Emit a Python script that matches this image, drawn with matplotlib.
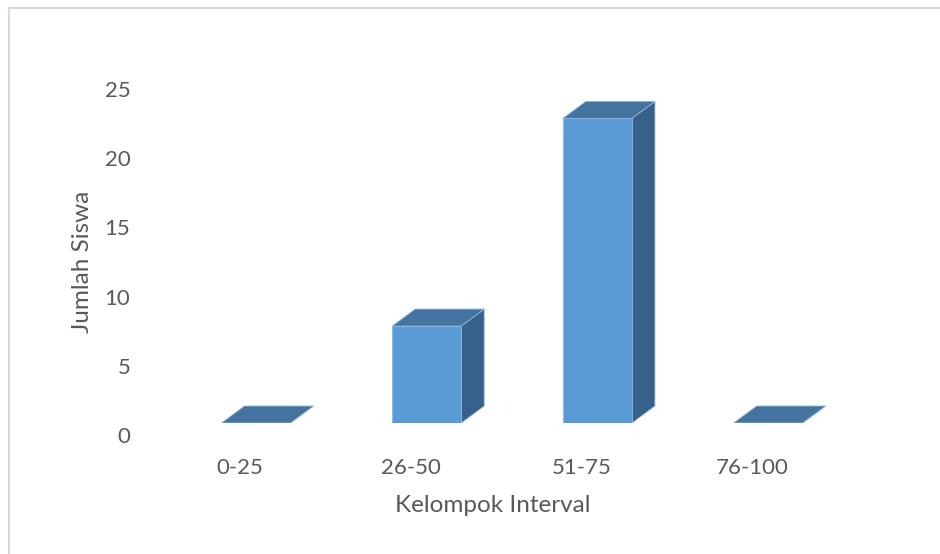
import matplotlib
matplotlib.use('Agg')
import matplotlib.pyplot as plt
from matplotlib.patches import Rectangle, Polygon
from matplotlib.lines import Line2D
from matplotlib.transforms import ScaledTranslation

# data
categories = ['0-25', '26-50', '51-75', '76-100']
jumlah = [0, 7, 22, 0]
y_ticks = [0, 5, 10, 15, 20, 25]

plt.rcParams['font.family'] = ['Lato', 'DejaVu Sans']
text_color = '#595959'
front_col = '#5B9BD5'
top_col = '#44739F'
side_col = '#37618A'
edge_col = '#8DB8E2'

fig = plt.figure(figsize=(9.4, 5.54), dpi=100)
W, H = 940, 554

# axes placed so that value 0 of the front faces sits at pixel row 423
left_px, right_px = 170.6, 853.5
bottom_px, top_px = 423, 63
ax = fig.add_axes([left_px / W, (H - bottom_px) / H,
                   (right_px - left_px) / W, (bottom_px - top_px) / H])
ax.set_xlim(-0.5, 3.5)
ax.set_ylim(0, 26)

px_x = (right_px - left_px) / 4.0
px_y = (bottom_px - top_px) / 26.0
bar_w = 69 / px_x
dx = 23 / px_x
dy = 17 / px_y

for i, v in enumerate(jumlah):
    x0 = i - bar_w / 2
    # side face
    side = Polygon([(x0 + bar_w, 0), (x0 + bar_w + dx, dy),
                    (x0 + bar_w + dx, v + dy), (x0 + bar_w, v)],
                   closed=True, facecolor=side_col, edgecolor=edge_col, lw=0.6)
    ax.add_patch(side)
    # front face
    if v > 0:
        ax.add_patch(Rectangle((x0, 0), bar_w, v, facecolor=front_col,
                               edgecolor=edge_col, lw=0.6))
    # top face
    top = Polygon([(x0, v), (x0 + bar_w, v), (x0 + bar_w + dx, v + dy),
                   (x0 + dx, v + dy)],
                  closed=True, facecolor=top_col, edgecolor=edge_col, lw=0.6)
    ax.add_patch(top)

for s in ax.spines.values():
    s.set_visible(False)

ax.set_xticks(range(len(categories)))
ax.set_xticklabels(categories)
ax.set_yticks(y_ticks)
ax.tick_params(axis='both', length=0, labelsize=16, labelcolor=text_color)
ax.tick_params(axis='y', pad=29)
ax.tick_params(axis='x', pad=25)

# tick labels sit slightly off the front plane, as in the 3D original
for lab in ax.get_yticklabels():
    lab.set_transform(lab.get_transform() + ScaledTranslation(0, -12 / 100, fig.dpi_scale_trans))
for lab in ax.get_xticklabels():
    lab.set_transform(lab.get_transform() + ScaledTranslation(-16 / 100, 0, fig.dpi_scale_trans))

ax.set_xlabel('Kelompok Interval', fontsize=17.5, color=text_color, va='center')
ax.xaxis.set_label_coords((493 - left_px) / (right_px - left_px),
                          (bottom_px - 506) / (bottom_px - top_px))
ax.set_ylabel('Jumlah Siswa', fontsize=17.5, color=text_color, va='center')
ax.yaxis.set_label_coords((83 - left_px) / (right_px - left_px),
                          (bottom_px - 262) / (bottom_px - top_px))

# chart-area border (cropped at right/bottom in the original)
fig.add_artist(Line2D([8.5 / W, 1], [1 - 7.5 / H, 1 - 7.5 / H],
                      transform=fig.transFigure, color='#d9d9d9', lw=1.5))
fig.add_artist(Line2D([8.5 / W, 8.5 / W], [0, 1 - 7.5 / H],
                      transform=fig.transFigure, color='#d9d9d9', lw=1.5))

fig.savefig('out.png', dpi=100)
plt.close(fig)
